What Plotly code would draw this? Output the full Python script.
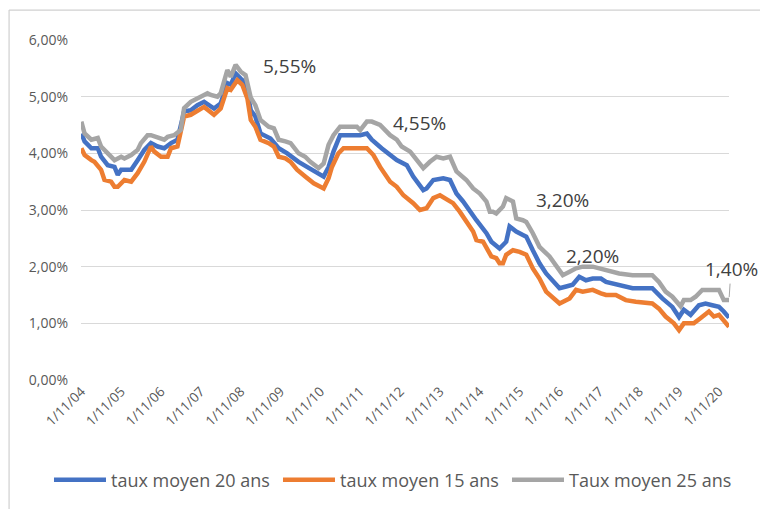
import plotly.graph_objects as go

# ---------------- data (taux in %) ----------------
dates_20 = ["2004-11-01","2004-12-01","2005-02-01","2005-04-01","2005-05-01","2005-07-01","2005-09-01",
            "2005-10-01","2005-11-01","2006-02-01","2006-04-01","2006-06-01","2006-08-01","2006-10-01",
            "2006-12-01","2007-02-01","2007-04-01","2007-06-01","2007-08-01","2007-10-01","2007-12-01",
            "2008-03-01","2008-05-01","2008-07-01","2008-08-01","2008-09-15","2008-11-01","2008-12-15",
            "2009-02-01","2009-03-15","2009-05-01","2009-08-01","2009-10-15","2010-01-01","2010-04-15",
            "2010-07-15","2010-10-15","2010-12-01","2011-01-15","2011-03-01","2011-05-01","2011-11-01",
            "2012-01-01","2012-02-15","2012-05-15","2012-08-01","2012-10-01","2013-01-01","2013-03-01",
            "2013-06-01","2013-07-01","2013-09-01","2013-12-01","2014-02-01","2014-04-01","2014-06-01",
            "2014-08-01","2014-10-01","2015-01-01","2015-02-15","2015-05-01","2015-07-01","2015-08-01",
            "2015-10-01","2015-12-01","2016-01-01","2016-03-01","2016-05-01","2016-07-01","2016-09-01",
            "2016-11-01","2017-01-01","2017-03-01","2017-05-01","2017-07-01","2017-09-01","2017-11-15",
            "2018-01-01","2018-05-01","2018-09-01","2019-03-01","2019-06-01","2019-09-01","2019-11-01",
            "2019-12-15","2020-02-15","2020-05-01","2020-07-01","2020-09-01","2020-11-01","2020-12-15",
            "2021-02-01"]
taux_20 = [4.35,4.21,4.09,4.09,3.94,3.79,3.76,
           3.62,3.71,3.71,3.88,4.06,4.18,4.12,
           4.09,4.18,4.24,4.74,4.76,4.85,4.91,
           4.79,4.88,5.24,5.21,5.41,5.32,5.24,
           4.76,4.65,4.35,4.26,4.09,4.00,3.85,
           3.74,3.65,3.59,3.76,4.03,4.32,4.32,
           4.35,4.24,4.09,3.97,3.88,3.79,3.59,
           3.35,3.38,3.53,3.56,3.53,3.29,3.15,
           3.00,2.82,2.59,2.44,2.32,2.44,2.71,
           2.62,2.56,2.53,2.29,2.06,1.88,1.76,
           1.62,1.65,1.68,1.82,1.76,1.79,1.79,
           1.73,1.68,1.62,1.62,1.44,1.29,1.11,
           1.24,1.15,1.32,1.35,1.32,1.29,1.21,
           1.10]

dates_15 = ["2004-11-01","2004-12-01","2005-02-01","2005-03-01","2005-05-01","2005-06-01","2005-08-01",
            "2005-09-01","2005-10-01","2005-12-01","2006-02-01","2006-04-01","2006-06-01","2006-08-01",
            "2006-09-01","2006-11-01","2007-01-01","2007-02-01","2007-04-01","2007-06-01","2007-08-01",
            "2007-10-01","2007-12-01","2008-03-01","2008-05-01","2008-07-01","2008-08-01","2008-10-01",
            "2008-11-15","2009-01-01","2009-02-01","2009-03-15","2009-05-01","2009-07-15","2009-09-01",
            "2009-10-15","2009-12-15","2010-02-01","2010-04-01","2010-06-15","2010-09-01","2010-11-01",
            "2010-12-01","2011-01-15","2011-02-15","2011-04-15","2011-06-01","2012-01-01","2012-03-01",
            "2012-05-01","2012-08-01","2012-10-01","2012-12-01","2013-03-01","2013-05-01","2013-07-01",
            "2013-09-01","2013-11-01","2014-01-01","2014-03-01","2014-05-01","2014-07-01","2014-09-01",
            "2014-10-01","2014-12-01","2015-02-15","2015-04-01","2015-05-01","2015-06-01","2015-07-01",
            "2015-09-01","2015-11-01","2016-01-01","2016-03-01","2016-05-01","2016-07-01","2016-09-01",
            "2016-11-01","2017-02-01","2017-04-01","2017-06-01","2017-09-01","2017-11-15","2018-01-01",
            "2018-04-01","2018-07-01","2018-10-01","2019-03-01","2019-05-01","2019-07-01","2019-09-15",
            "2019-11-01","2019-12-15","2020-03-15","2020-05-15","2020-08-01","2020-09-15","2020-11-01",
            "2021-02-01"]
taux_15 = [4.09,3.97,3.88,3.85,3.71,3.53,3.50,
           3.41,3.41,3.53,3.50,3.65,3.85,4.12,
           4.03,3.94,3.94,4.09,4.12,4.65,4.68,
           4.76,4.82,4.68,4.79,5.15,5.12,5.29,
           5.21,4.97,4.59,4.47,4.24,4.18,4.12,
           3.94,3.91,3.85,3.71,3.59,3.47,3.41,
           3.38,3.56,3.76,4.00,4.09,4.09,3.97,
           3.76,3.50,3.41,3.26,3.12,3.00,3.03,
           3.21,3.26,3.18,3.12,2.97,2.79,2.62,
           2.47,2.44,2.18,2.15,2.06,2.06,2.21,
           2.29,2.26,2.21,1.97,1.79,1.56,1.44,
           1.35,1.44,1.59,1.56,1.59,1.53,1.50,
           1.50,1.41,1.38,1.35,1.26,1.12,1.00,
           0.88,1.00,1.00,1.09,1.21,1.12,1.15,
           0.94]

dates_25 = ["2004-11-01","2004-12-01","2005-02-01","2005-04-01","2005-05-01","2005-07-01","2005-09-01",
            "2005-11-01","2005-12-01","2006-02-01","2006-04-01","2006-05-01","2006-07-01","2006-08-01",
            "2006-10-01","2006-12-01","2007-01-01","2007-03-01","2007-05-01","2007-06-01","2007-08-01",
            "2007-09-01","2007-11-01","2008-01-01","2008-02-01","2008-04-01","2008-05-01","2008-07-01",
            "2008-08-01","2008-09-15","2008-11-01","2008-12-15","2009-02-01","2009-03-15","2009-05-01",
            "2009-07-15","2009-09-01","2009-10-15","2009-12-15","2010-02-01","2010-04-15","2010-06-15",
            "2010-08-01","2010-10-15","2010-12-01","2011-01-15","2011-03-01","2011-05-01","2011-10-01",
            "2011-11-01","2012-01-01","2012-02-15","2012-05-01","2012-08-01","2012-10-01","2012-11-15",
            "2013-02-01","2013-04-01","2013-06-01","2013-08-01","2013-10-01","2013-12-01","2014-02-01",
            "2014-04-01","2014-07-01","2014-09-01","2014-11-01","2015-01-01","2015-02-01","2015-03-01",
            "2015-04-01","2015-06-01","2015-07-01","2015-09-01","2015-10-01","2015-12-01","2016-01-01",
            "2016-03-01","2016-05-01","2016-08-01","2016-10-01","2016-12-01","2017-02-01","2017-04-01",
            "2017-06-01","2017-09-01","2017-11-01","2018-01-01","2018-05-01","2018-09-01","2019-03-01",
            "2019-05-01","2019-07-01","2019-09-01","2019-11-15","2019-12-15","2020-02-15","2020-04-01",
            "2020-06-01","2020-11-01","2020-12-15","2021-02-01"]
taux_25 = [4.56,4.35,4.24,4.27,4.12,4.00,3.88,
           3.94,3.91,3.97,4.06,4.18,4.32,4.32,
           4.27,4.24,4.29,4.32,4.41,4.80,4.91,
           4.94,5.00,5.06,5.03,5.00,5.06,5.47,
           5.35,5.56,5.44,5.38,4.98,4.85,4.59,
           4.47,4.44,4.24,4.21,4.18,4.00,3.94,
           3.85,3.74,3.82,4.15,4.32,4.47,4.47,
           4.41,4.56,4.56,4.50,4.32,4.24,4.12,
           4.03,3.88,3.74,3.85,3.94,3.91,3.94,
           3.68,3.53,3.38,3.29,3.15,2.97,2.97,
           2.94,3.06,3.21,3.15,2.85,2.82,2.79,
           2.59,2.35,2.18,2.00,1.85,1.91,1.97,
           2.00,2.00,1.97,1.94,1.88,1.85,1.85,
           1.73,1.56,1.47,1.30,1.41,1.41,1.47,
           1.59,1.59,1.41,1.41]

series_names = ["taux moyen 20 ans", "taux moyen 15 ans", "Taux moyen 25 ans"]
series_colors = ["#4472C4", "#ED7D31", "#A5A5A5"]

tick_dates = ["%d-11-01" % y for y in range(2004, 2021)]
tick_labels = ["1/11/04","1/11/05","1/11/06","1/11/07","1/11/08","1/11/09","1/11/10","1/11/11",
               "1/11/12","1/11/13","1/11/14","1/11/15","1/11/16","1/11/17","1/11/18","1/11/19","1/11/20"]

label_texts = ["5,55%", "4,55%", "3,20%", "2,20%", "1,40%"]

FONT = "Open Sans"
TXT = "#595959"

fig = go.Figure()
for d, v, name, col in [(dates_20, taux_20, series_names[0], series_colors[0]),
                        (dates_15, taux_15, series_names[1], series_colors[1]),
                        (dates_25, taux_25, series_names[2], series_colors[2])]:
    fig.add_trace(go.Scatter(x=d, y=[t / 100 for t in v], mode="lines", name=name,
                             line=dict(color=col, width=4.5)))

# data labels (grey series)
lab_pos = [("2010-01-25", 0.0554), ("2013-05-01", 0.0454), ("2016-12-01", 0.0318), ("2017-09-01", 0.0218)]
for (xx, yy), t in zip(lab_pos, label_texts[:4]):
    fig.add_annotation(x=xx, y=yy, text=t, showarrow=False, xanchor="center", yanchor="middle",
                       font=dict(family=FONT, size=19, color="#404040"))
fig.add_annotation(x=dates_25[-1], y=taux_25[-1] / 100, text=label_texts[4], showarrow=True,
                   arrowhead=0, arrowwidth=1, arrowcolor="#A5A5A5", ax=2, ay=-31, standoff=3,
                   font=dict(family=FONT, size=19, color="#404040"))

# chart border (top & left visible)
fig.add_shape(type="line", xref="paper", yref="paper", x0=-0.111, x1=1.1, y0=1.088, y1=1.088,
              line=dict(color="#D0D0D0", width=1.2))
fig.add_shape(type="line", xref="paper", yref="paper", x0=-0.111, x1=-0.111, y0=-0.4, y1=1.088,
              line=dict(color="#D0D0D0", width=1.2))

fig.update_layout(
    width=760, height=509,
    margin=dict(l=81, r=31, t=40, b=129, autoexpand=False),
    paper_bgcolor="white", plot_bgcolor="white",
    separators=", ",
    font=dict(family=FONT, color=TXT),
    showlegend=True,
    legend=dict(orientation="h", xref="paper", yref="paper",
                x=-0.0494, xanchor="left", y=-0.294, yanchor="middle",
                font=dict(family=FONT, size=18, color=TXT), itemwidth=52,
                entrywidth=162, entrywidthmode="pixels",
                traceorder="normal", bgcolor="rgba(0,0,0,0)"),
    xaxis=dict(type="date", range=["2004-10-29", "2021-02-01"], tickvals=tick_dates,
               ticktext=tick_labels, tickangle=-45, showgrid=False, zeroline=False,
               showline=False, ticks="", automargin=False,
               tickfont=dict(family=FONT, size=13.5, color=TXT)),
    yaxis=dict(range=[0, 0.06], tickvals=[0, 0.01, 0.02, 0.03, 0.04, 0.05, 0.06],
               tickformat=".2%", showgrid=True, gridcolor="#D9D9D9", gridwidth=1,
               zeroline=False, showline=False, ticks="", ticklabelstandoff=12, automargin=False,
               tickfont=dict(family=FONT, size=14, color=TXT)),
)

fig.write_html("out.html", config={"displayModeBar": False},
               post_script="document.body.style.margin='0';")
